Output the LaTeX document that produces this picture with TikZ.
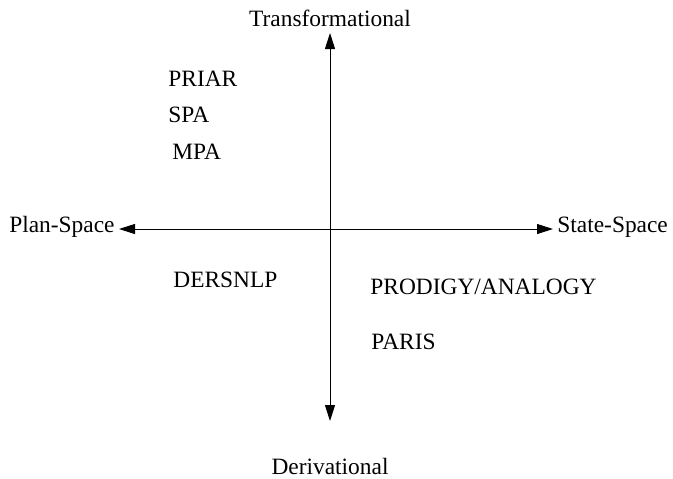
\documentclass[tikz,border=0pt]{standalone}
\usepackage{fontspec}
\setmainfont{Liberation Serif}
\usetikzlibrary{arrows.meta}

\begin{document}
\begin{tikzpicture}[x=0.5pt, y=-0.5pt]
        \tikzstyle{every node}=[inner sep=0pt, font=\fontsize{11.7}{14}\selectfont]
        \tikzstyle{axis}=[line width=0.5pt, {Triangle[length=8pt,width=5pt]}-{Triangle[length=8pt,width=5pt]}]
        \tikzstyle{system}=[anchor=west]
        \useasboundingbox (0,0) rectangle (673,478);

% the two axes and their ends

        \coordinate (top) at (330,33);
        \coordinate (bottom) at (330,421);
        \coordinate (left) at (119,229);
        \coordinate (right) at (553,229);
        \draw[axis] (top) -- (bottom);
        \draw[axis] (left) -- (right);

        \node (trans) at (330,18) {Transformational};
        \node (deriv) at (330,466) {Derivational};
        \node[anchor=east] (plan) at (115,227) {Plan-Space};
        \node[anchor=west] (state) at (557,227) {State-Space};

% systems in the quadrants

        \node[system] (priar) at (168,79) {PRIAR};
        \node[system] (spa) at (168,115) {SPA};
        \node[system] (mpa) at (172,152) {MPA};
        \node[system] (dersnlp) at (173,280) {DERSNLP};
        \node[system] (prodigy) at (370,287) {PRODIGY/ANALOGY};
        \node[system] (paris) at (371,342) {PARIS};

    \end{tikzpicture}
\end{document}
